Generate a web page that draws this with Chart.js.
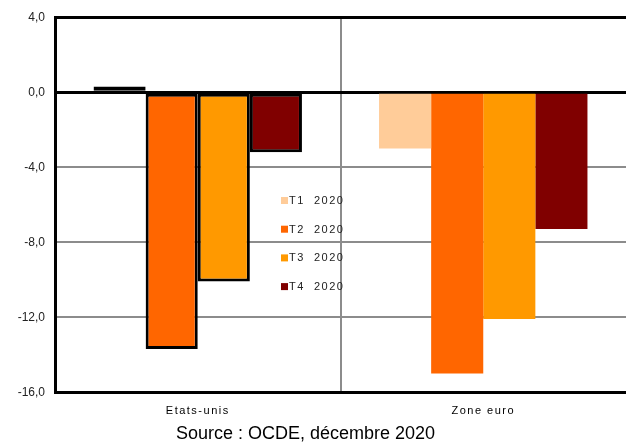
<!DOCTYPE html>
<html>
<head>
<meta charset="utf-8">
<script src="https://cdn.jsdelivr.net/npm/chart.js@4/dist/chart.umd.min.js"></script>
<style>
    html, body { margin: 0; padding: 0; background: #fff; }
    #wrap { width: 626px; height: 444px; }
</style>
</head>
<body>
<div id="wrap"><canvas id="barchart" width="626" height="444"></canvas></div>
<script>
const categories = ['Etats-unis', 'Zone euro'];
const seriesNames = ['T1  2020', 'T2  2020', 'T3  2020', 'T4  2020'];
const t1Values = [0.3, -3.0];
const t2Values = [-13.7, -15.0];
const t3Values = [-10.1, -12.1];
const t4Values = [-3.2, -7.3];
const yTicks = [4, 0, -4, -8, -12, -16];

const seriesColors = ['#FFCC99', '#FF6600', '#FF9900', '#800000'];

// the source labels are letter-spaced: x labels are drawn after the bars (z: 1)
// so the spacing can be switched on only for them and for the legend
const spacedText = {
    id: 'spacedText',
    beforeDraw(chart) {
        chart.ctx.letterSpacing = '0px';
    },
    afterDatasetsDraw(chart) {
        chart.ctx.letterSpacing = '1.5px';
    },
    afterDraw(chart) {
        chart.ctx.letterSpacing = '0px';
    }
};

// legend drawn inside the plot, between the two groups
const insideLegend = {
    id: 'insideLegend',
    afterDraw(chart) {
        const ctx = chart.ctx;
        ctx.save();
        ctx.letterSpacing = '1.5px';
        ctx.font = '11px "Liberation Sans", Arial, sans-serif';
        ctx.textBaseline = 'middle';
        chart.data.datasets.forEach(function(ds, i) {
            const y = 201 + i * 28.7;
            ctx.fillStyle = ds.backgroundColor;
            ctx.fillRect(281, y - 4, 7, 7);
            ctx.fillStyle = '#222';
            ctx.fillText(ds.label, 289, y);
        });
        ctx.restore();
    }
};

function makeDataset(name, values, i) {
    return {
        label: name,
        data: values,
        backgroundColor: seriesColors[i],
        borderColor: '#000',
        borderWidth: [3, 0],
        borderSkipped: false
    };
}

const options = {
    responsive: false,
    animation: false,
    layout: {
        padding: { top: 17, right: 0, bottom: 0, left: 0 }
    },
    plugins: {
        legend: { display: false },
        tooltip: { enabled: false },
        title: {
            display: true,
            position: 'bottom',
            text: 'Source : OCDE, décembre 2020\u00a0\u00a0\u00a0',
            color: '#000',
            font: { family: '"Liberation Sans", Arial, sans-serif', size: 18, weight: 'normal', lineHeight: 1.1 },
            padding: { top: 4, bottom: 0 }
        }
    },
    scales: {
        x: {
            grid: {
                offset: true,
                drawTicks: false,
                lineWidth: 2,
                color: function(c) {
                    return c.index === 1 ? '#8c8c8c' : 'rgba(0,0,0,0)';
                }
            },
            border: { display: true, color: '#000', width: 3 },
            ticks: {
                z: 1,
                color: '#000',
                padding: 12,
                font: { family: '"Liberation Sans", Arial, sans-serif', size: 11 }
            },
            afterFit: function(scale) { scale.height = 28; }
        },
        y: {
            min: -16,
            max: 4,
            afterBuildTicks: function(scale) {
                scale.ticks = yTicks.map(function(v) { return { value: v }; });
            },
            grid: {
                drawTicks: false,
                lineWidth: function(c) {
                    return c.tick && (c.tick.value === 0 || c.tick.value === 4) ? 3 : 2;
                },
                color: function(c) {
                    if (!c.tick) return '#8c8c8c';
                    if (c.tick.value === 0 || c.tick.value === 4 || c.tick.value === -16) return '#000';
                    return '#8c8c8c';
                }
            },
            border: { display: true, color: '#000', width: 3 },
            ticks: {
                color: '#222',
                padding: 10,
                font: { family: '"Liberation Sans", Arial, sans-serif', size: 12 },
                callback: function(v) { return v.toFixed(1).replace('.', ','); }
            },
            afterFit: function(scale) { scale.width = 55; }
        }
    },
    datasets: {
        bar: {
            barPercentage: 1,
            categoryPercentage: 0.73
        }
    }
};

const ctx = document.querySelector('#barchart').getContext('2d');
new Chart(ctx, {
    type: 'bar',
    data: {
        labels: categories,
        datasets: [
            makeDataset(seriesNames[0], t1Values, 0),
            makeDataset(seriesNames[1], t2Values, 1),
            makeDataset(seriesNames[2], t3Values, 2),
            makeDataset(seriesNames[3], t4Values, 3)
        ]
    },
    options: options,
    plugins: [spacedText, insideLegend]
});
</script>
</body>
</html>
